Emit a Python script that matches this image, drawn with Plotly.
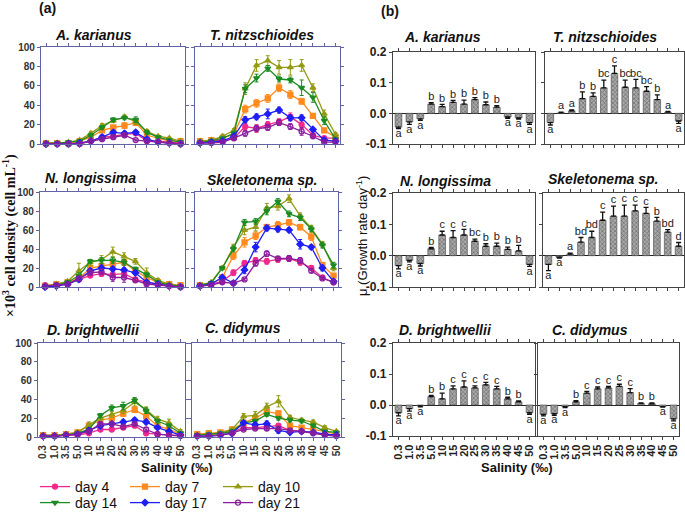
import plotly.graph_objects as go

# ---------------- data ----------------
salinity = ["0.3", "1.0", "3.5", "5.0", "10", "15", "20", "25", "30", "35", "40", "45", "50"]
days = ["day 4", "day 7", "day 10", "day 14", "day 17", "day 21"]
species = ["A. karianus", "T. nitzschioides", "N. longissima", "Skeletonema sp.", "D. brightwellii", "C. didymus"]

# cell density (x10^3 cells/mL), per species, per day
karianus_density = {
    "day 4":  [1, 1, 1, 1, 3, 7, 8, 10, 11, 3, 3, 2, 1],
    "day 7":  [1, 1, 1, 3, 7, 14, 17, 19, 22, 9, 6, 3, 3],
    "day 10": [1, 1, 2, 4, 11, 19, 24, 28, 23, 13, 8, 6, 3],
    "day 14": [1, 1, 2, 3, 9, 17, 25, 27, 25, 12, 7, 4, 2],
    "day 17": [0, 0, 0, 1, 3, 7, 12, 11, 12, 5, 2, 1, 0],
    "day 21": [0, 0, 0, 0, 3, 5, 7, 9, 4, 3, 2, 1, 0],
}
karianus_density_err = {
    "day 4":  [0.5, 0.5, 0.5, 0.5, 1, 1.5, 1.5, 2, 2, 1, 0.5, 0.5, 0.5],
    "day 7":  [0.5, 0.5, 0.5, 1, 1.5, 2, 2, 3, 3, 1.5, 1, 0.5, 0.5],
    "day 10": [0.5, 0.5, 0.5, 1, 2, 2, 2, 2, 3, 2, 1, 1, 1],
    "day 14": [0.5, 0.5, 0.5, 1, 2, 2, 2, 2, 3, 2, 1, 1, 0.5],
    "day 17": [0.3, 0.3, 0.3, 0.5, 1, 1.5, 2, 2, 2, 1, 0.5, 0.5, 0.3],
    "day 21": [0.3, 0.3, 0.3, 0.5, 1, 1, 1, 2, 1, 1, 0.5, 0.5, 0.3],
}
nitzschioides_density = {
    "day 4":  [3, 3, 4, 6, 18, 16, 20, 23, 28, 20, 9, 6, 6],
    "day 7":  [3, 4, 6, 10, 36, 42, 47, 58, 51, 44, 29, 14, 7],
    "day 10": [3, 4, 8, 14, 57, 81, 86, 79, 79, 81, 58, 31, 10],
    "day 14": [2, 3, 6, 11, 57, 68, 78, 67, 66, 58, 48, 24, 5],
    "day 17": [1, 2, 3, 8, 25, 28, 31, 35, 27, 27, 15, 4, 3],
    "day 21": [1, 1, 2, 6, 11, 16, 17, 22, 18, 13, 8, 2, 2],
}
nitzschioides_density_err = {
    "day 4":  [1, 1, 1, 1, 3, 4, 3, 3, 4, 4, 2, 1, 1],
    "day 7":  [1, 1, 1, 2, 4, 4, 4, 4, 4, 3, 2, 2, 1],
    "day 10": [1, 1, 2, 2, 6, 6, 5, 7, 8, 6, 4, 4, 2],
    "day 14": [1, 1, 1, 2, 4, 4, 3, 3, 3, 8, 5, 4, 2],
    "day 17": [1, 1, 1, 2, 3, 3, 5, 3, 3, 3, 2, 1, 1],
    "day 21": [1, 1, 1, 1, 3, 3, 3, 3, 3, 4, 2, 1, 1],
}
longissima_density = {
    "day 4":  [2, 2, 3, 8, 12, 14, 13, 14, 8, 5, 3, 2, 1],
    "day 7":  [1, 3, 5, 9, 20, 22, 24, 26, 17, 10, 5, 3, 2],
    "day 10": [1, 3, 6, 17, 26, 29, 37, 32, 27, 15, 7, 3, 1],
    "day 14": [1, 2, 5, 12, 27, 28, 28, 26, 19, 13, 5, 2, 1],
    "day 17": [0, 1, 3, 8, 17, 20, 19, 18, 15, 5, 3, 1, 0],
    "day 21": [1, 2, 3, 9, 15, 16, 10, 10, 7, 3, 2, 1, 0],
}
longissima_density_err = {
    "day 4":  [1, 1, 1, 1, 2, 3, 3, 3, 2, 1, 1, 1, 1],
    "day 7":  [1, 1, 1, 2, 3, 3, 3, 3, 3, 2, 1, 1, 1],
    "day 10": [1, 1, 1, 8, 3, 4, 5, 4, 3, 5, 2, 1, 1],
    "day 14": [1, 1, 1, 3, 2, 3, 3, 3, 2, 2, 1, 1, 1],
    "day 17": [1, 1, 1, 2, 2, 3, 2, 2, 2, 1, 1, 1, 1],
    "day 21": [1, 1, 1, 2, 3, 3, 4, 5, 2, 1, 1, 1, 1],
}
skeletonema_density = {
    "day 4":  [2, 3, 6, 15, 25, 28, 27, 29, 30, 26, 20, 10, 5],
    "day 7":  [2, 3, 10, 33, 47, 54, 63, 65, 68, 63, 53, 23, 12],
    "day 10": [2, 5, 20, 42, 60, 63, 83, 85, 93, 75, 62, 45, 20],
    "day 14": [2, 4, 20, 40, 68, 69, 80, 90, 77, 73, 61, 44, 23],
    "day 17": [1, 3, 10, 4, 18, 42, 62, 61, 60, 45, 42, 20, 6],
    "day 21": [1, 2, 5, 4, 8, 25, 35, 30, 30, 28, 17, 9, 5],
}
skeletonema_density_err = {
    "day 4":  [1, 1, 1, 3, 3, 3, 3, 3, 3, 3, 2, 2, 1],
    "day 7":  [1, 1, 1, 4, 5, 4, 3, 4, 3, 3, 4, 3, 2],
    "day 10": [1, 1, 2, 3, 5, 4, 5, 4, 4, 3, 3, 3, 3],
    "day 14": [1, 1, 1, 3, 3, 3, 4, 3, 3, 3, 3, 3, 3],
    "day 17": [1, 1, 1, 2, 4, 5, 3, 3, 2, 5, 2, 3, 1],
    "day 21": [1, 1, 1, 1, 1, 3, 3, 2, 3, 3, 2, 1, 1],
}
brightwellii_density = {
    "day 4":  [1, 1, 2, 2, 4, 8, 8, 10, 12, 4, 3, 2, 2],
    "day 7":  [2, 2, 3, 5, 12, 18, 20, 25, 29, 22, 12, 8, 3],
    "day 10": [2, 2, 3, 5, 13, 20, 24, 28, 37, 29, 19, 15, 6],
    "day 14": [1, 1, 2, 4, 8, 23, 31, 33, 39, 28, 17, 12, 4],
    "day 17": [1, 1, 2, 3, 7, 12, 14, 16, 18, 16, 10, 6, 2],
    "day 21": [1, 1, 2, 3, 6, 14, 14, 11, 14, 8, 3, 2, 1],
}
brightwellii_density_err = {
    "day 4":  [1, 1, 1, 1, 1, 1, 1, 1, 2, 1, 1, 1, 1],
    "day 7":  [1, 1, 1, 1, 2, 3, 3, 3, 3, 3, 2, 1, 1],
    "day 10": [1, 1, 1, 2, 3, 3, 3, 3, 4, 3, 3, 4, 2],
    "day 14": [0.5, 0.5, 1, 1, 2, 2, 3, 4, 3, 3, 2, 2, 1],
    "day 17": [0.5, 0.5, 0.5, 1, 2, 2, 2, 2, 2, 2, 1, 1, 1],
    "day 21": [0.5, 0.5, 0.5, 1, 1, 1, 2, 2, 2, 2, 1, 1, 0.5],
}
didymus_density = {
    "day 4":  [3, 3, 4, 5, 10, 10, 11, 12, 7, 6, 5, 3, 2],
    "day 7":  [3, 4, 5, 8, 15, 20, 27, 25, 12, 10, 8, 6, 3],
    "day 10": [2, 3, 4, 8, 22, 23, 32, 38, 21, 18, 16, 10, 6],
    "day 14": [2, 3, 4, 6, 15, 17, 24, 20, 18, 17, 12, 6, 5],
    "day 17": [1, 1, 2, 4, 15, 13, 14, 7, 5, 6, 5, 3, 2],
    "day 21": [1, 1, 2, 4, 8, 9, 9, 9, 7, 6, 4, 2, 1],
}
didymus_density_err = {
    "day 4":  [1, 1, 1, 1, 1, 1, 1, 1, 1, 1, 1, 1, 1],
    "day 7":  [1, 1, 1, 1, 2, 3, 3, 3, 2, 2, 1, 1, 1],
    "day 10": [1, 1, 1, 1, 3, 4, 4, 6, 2, 2, 2, 2, 1],
    "day 14": [0.5, 0.5, 1, 1, 2, 2, 2, 2, 2, 2, 2, 1, 1],
    "day 17": [0.5, 0.5, 0.5, 1, 2, 2, 3, 3, 1, 1, 1, 1, 0.5],
    "day 21": [0.5, 0.5, 0.5, 1, 1, 1, 2, 2, 1, 1, 1, 1, 0.5],
}

# growth rate (day^-1), error, significance letters
karianus_mu = [-0.045, -0.028, -0.018, 0.030, 0.022, 0.036, 0.030, 0.045, 0.028, 0.020, -0.012, -0.015, -0.030]
karianus_mu_err = [0.005, 0.008, 0.005, 0.005, 0.007, 0.006, 0.013, 0.006, 0.009, 0.005, 0.004, 0.004, 0.006]
karianus_letters = ["a", "a", "a", "b", "b", "b", "b", "b", "b", "b", "a", "a", "a"]

nitzschioides_mu = [-0.030, 0.002, 0.008, 0.048, 0.055, 0.083, 0.130, 0.085, 0.083, 0.072, 0.045, 0.004, -0.025]
nitzschioides_mu_err = [0.008, 0.002, 0.003, 0.022, 0.012, 0.025, 0.025, 0.023, 0.028, 0.015, 0.015, 0.002, 0.008]
nitzschioides_letters = ["a", "a", "a", "b", "b", "bc", "c", "bc", "bc", "bc", "b", "a", "a"]

longissima_mu = [-0.032, -0.015, -0.025, 0.022, 0.066, 0.058, 0.066, 0.046, 0.030, 0.030, 0.020, 0.015, -0.028]
longissima_mu_err = [0.010, 0.005, 0.008, 0.004, 0.012, 0.022, 0.018, 0.007, 0.008, 0.010, 0.007, 0.018, 0.006]
longissima_letters = ["a", "a", "a", "b", "c", "c", "c", "bc", "b", "b", "b", "b", "a"]

skeletonema_mu = [-0.028, -0.005, 0.005, 0.043, 0.058, 0.113, 0.126, 0.126, 0.143, 0.135, 0.110, 0.075, 0.030]
skeletonema_mu_err = [0.020, 0.003, 0.003, 0.015, 0.020, 0.026, 0.032, 0.035, 0.018, 0.019, 0.012, 0.008, 0.012]
skeletonema_letters = ["a", "a", "a", "bd", "bd", "c", "c", "c", "c", "c", "b", "bd", "d"]

brightwellii_mu = [-0.025, -0.012, -0.003, 0.027, 0.020, 0.052, 0.058, 0.055, 0.065, 0.052, 0.020, 0.010, -0.025]
brightwellii_mu_err = [0.010, 0.008, 0.003, 0.004, 0.018, 0.010, 0.020, 0.007, 0.008, 0.008, 0.005, 0.003, 0.005]
brightwellii_letters = ["a", "a", "a", "b", "b", "c", "c", "c", "c", "c", "b", "b", "a"]

didymus_mu = [-0.030, -0.028, -0.005, 0.010, 0.038, 0.052, 0.055, 0.060, 0.040, 0.005, 0.004, -0.005, -0.045]
didymus_mu_err = [0.005, 0.005, 0.003, 0.004, 0.006, 0.006, 0.005, 0.007, 0.013, 0.002, 0.003, 0.002, 0.006]
didymus_letters = ["a", "a", "a", "b", "c", "c", "c", "c", "c", "b", "b", "a", "a"]

density_sets = [
    (karianus_density, karianus_density_err),
    (nitzschioides_density, nitzschioides_density_err),
    (longissima_density, longissima_density_err),
    (skeletonema_density, skeletonema_density_err),
    (brightwellii_density, brightwellii_density_err),
    (didymus_density, didymus_density_err),
]
growth_sets = [
    (karianus_mu, karianus_mu_err, karianus_letters),
    (nitzschioides_mu, nitzschioides_mu_err, nitzschioides_letters),
    (longissima_mu, longissima_mu_err, longissima_letters),
    (skeletonema_mu, skeletonema_mu_err, skeletonema_letters),
    (brightwellii_mu, brightwellii_mu_err, brightwellii_letters),
    (didymus_mu, didymus_mu_err, didymus_letters),
]

# ---------------- styles ----------------
W, H = 685, 512
day_colors = {"day 4": "#f0288c", "day 7": "#ff8a1e", "day 10": "#959a12",
              "day 14": "#1c8c22", "day 17": "#1e1ef5", "day 21": "#8a1e9e"}
day_symbols = {"day 4": "circle", "day 7": "square", "day 10": "triangle-up",
               "day 14": "triangle-down", "day 17": "diamond", "day 21": "circle-open"}
FONT = "Liberation Sans, Arial, sans-serif"
FRAME_A = "#6262a6"
FRAME_B = "#444444"

def px_x(a, b):
    return [a / W, b / W]

def px_y(top, bottom):
    return [1 - bottom / H, 1 - top / H]

# plot-area boxes in pixels (left, right, top, bottom)
line_boxes = [(41, 185, 47, 144), (195, 340, 47, 144),
              (40, 185, 192, 287), (195, 338, 192, 287),
              (38, 185, 343, 437), (192, 341, 343, 437)]
bar_boxes = [(393, 535, 52, 144), (545, 684, 52, 144),
             (393, 535, 193, 287), (543, 684, 193, 287),
             (393, 535, 343, 436), (538, 679, 343, 436)]
line_title_pos = [(93, 35), (262, 35), (90, 178), (262, 180), (93, 330), (243, 328)]
bar_title_pos = [(442, 37), (605, 37), (445, 181), (603, 179), (445, 330), (590, 330)]
# legend entry anchors (left x, center y) in pixels
legend_pos = {"day 4": (35, 487), "day 7": (125, 487), "day 10": (218, 487),
              "day 14": (35, 503), "day 17": (125, 503), "day 21": (218, 503)}
legend_ids = {"day 4": "legend", "day 7": "legend2", "day 10": "legend3",
              "day 14": "legend4", "day 17": "legend5", "day 21": "legend6"}

fig = go.Figure()
layout = {}
annotations = []
axis_n = 0

def axname(n):
    return "" if n == 1 else str(n)

def ann(text, x, y, size, family=FONT, angle=0):
    return dict(text=text, x=x / W, y=1 - y / H, xref="paper", yref="paper",
                xanchor="center", yanchor="middle", showarrow=False, textangle=angle,
                font=dict(family=family, size=size, color="#111"))

# ---------- density line panels ----------
for i, (dens, derr) in enumerate(density_sets):
    axis_n += 1
    n = axis_n
    l, r, t, b = line_boxes[i]
    bottom_row = i >= 4
    left_col = i % 2 == 0
    for d in days:
        fig.add_trace(go.Scatter(
            x=salinity, y=dens[d], name=d,
            mode="lines+markers",
            line=dict(color=day_colors[d], width=1.3),
            marker=dict(symbol=day_symbols[d], size=5, color=day_colors[d],
                        line=dict(color=day_colors[d], width=1.3)),
            error_y=dict(type="data", array=derr[d], color=day_colors[d], thickness=1, width=2),
            xaxis="x" + axname(n), yaxis="y" + axname(n),
            showlegend=(i == 0), legend=legend_ids[d],
            cliponaxis=False,
        ))
    layout["xaxis" + axname(n)] = dict(
        domain=px_x(l, r), anchor="y" + axname(n), type="category",
        categoryorder="array", categoryarray=salinity, range=[-0.45, 12.4],
        tickmode="array", tickvals=salinity, ticktext=salinity,
        showline=True, linecolor=FRAME_A, linewidth=1.3, mirror="allticks",
        ticks="outside", ticklen=3, tickcolor=FRAME_A,
        showticklabels=bottom_row, tickangle=-90,
        tickfont=dict(family=FONT, size=10, color="#333", weight="bold"),
        showgrid=False, zeroline=False,
    )
    layout["yaxis" + axname(n)] = dict(
        domain=px_y(t, b), anchor="x" + axname(n), range=[0, 100],
        tickvals=[0, 20, 40, 60, 80, 100],
        showline=True, linecolor=FRAME_A, linewidth=1.3, mirror="allticks",
        ticks="outside", ticklen=3, tickcolor=FRAME_A,
        showticklabels=left_col,
        tickfont=dict(family=FONT, size=10, color="#333", weight="bold"),
        showgrid=False, zeroline=False,
    )
    tx, ty = line_title_pos[i]
    annotations.append(ann("<b><i>" + species[i] + "</i></b>", tx, ty, 14))

# ---------- growth-rate bar panels ----------
for i, (mu, mu_err, letters) in enumerate(growth_sets):
    axis_n += 1
    n = axis_n
    l, r, t, b = bar_boxes[i]
    bottom_row = i >= 4
    left_col = i % 2 == 0
    up = [e if v >= 0 else 0 for v, e in zip(mu, mu_err)]
    down = [e if v < 0 else 0 for v, e in zip(mu, mu_err)]
    fig.add_trace(go.Bar(
        x=salinity, y=mu, width=0.62,
        marker=dict(color="#7a7a7a", line=dict(color="#444", width=0.6),
                    pattern=dict(shape="x", size=3, solidity=0.4, fgcolor="#2e2e2e", bgcolor="#a9a9a9")),
        error_y=dict(type="data", array=up, arrayminus=down, symmetric=False,
                     color="#111", thickness=1.3, width=2.5),
        xaxis="x" + axname(n), yaxis="y" + axname(n), showlegend=False,
    ))
    label_y = [v + e if v >= 0 else v - e for v, e in zip(mu, mu_err)]
    positions = ["top center" if v >= 0 else "bottom center" for v in mu]
    fig.add_trace(go.Scatter(
        x=salinity, y=label_y, mode="text", text=letters, textposition=positions,
        textfont=dict(family=FONT, size=11, color="#222"),
        xaxis="x" + axname(n), yaxis="y" + axname(n), showlegend=False, cliponaxis=False,
    ))
    layout["xaxis" + axname(n)] = dict(
        domain=px_x(l, r), anchor="y" + axname(n), type="category",
        categoryorder="array", categoryarray=salinity, range=[-0.5, 12.5],
        tickmode="array", tickvals=salinity, ticktext=salinity,
        showline=True, linecolor=FRAME_B, linewidth=1.3, mirror="allticks",
        ticks="outside", ticklen=3, tickcolor=FRAME_B,
        showticklabels=bottom_row, tickangle=-90,
        tickfont=dict(family=FONT, size=11, color="#222", weight="bold"),
        showgrid=False, zeroline=False,
    )
    layout["yaxis" + axname(n)] = dict(
        domain=px_y(t, b), anchor="x" + axname(n), range=[-0.1, 0.2],
        tickvals=[-0.1, 0.0, 0.1, 0.2], ticktext=["-0.1", "0.0", "0.1", "0.2"],
        showline=True, linecolor=FRAME_B, linewidth=1.3, mirror=True,
        ticks="outside", ticklen=3, tickcolor=FRAME_B,
        showticklabels=left_col,
        tickfont=dict(family=FONT, size=12, color="#222", weight="bold"),
        showgrid=False, zeroline=True, zerolinecolor="#222", zerolinewidth=1.3,
    )
    tx, ty = bar_title_pos[i]
    annotations.append(ann("<b><i>" + species[i] + "</i></b>", tx, ty, 14))

# ---------- labels ----------
annotations += [
    ann("<b>(a)</b>", 47, 8, 14),
    ann("<b>(b)</b>", 390, 11, 14),
    ann("<b>×10<sup>3</sup> cell density (cell mL<sup>-1</sup>)</b>", 9, 236, 14,
        family="Liberation Serif, Times New Roman, serif", angle=-90),
    ann("μ (Growth rate day<sup>-1</sup>)", 362, 236, 13, angle=-90),
    ann("<b>Salinity (‰)</b>", 177, 467, 13),
    ann("<b>Salinity (‰)</b>", 517, 467, 13),
]

for d in days:
    lx, ly = legend_pos[d]
    layout[legend_ids[d]] = dict(
        x=lx / W, y=1 - ly / H, orientation="h", xanchor="left", yanchor="middle",
        font=dict(family=FONT, size=14, color="#111"), bgcolor="rgba(0,0,0,0)",
        itemwidth=30,
    )

fig.update_layout(
    width=W, height=H, margin=dict(l=0, r=0, t=0, b=0, autoexpand=False),
    paper_bgcolor="white", plot_bgcolor="white",
    font=dict(family=FONT), bargap=0.3,
    annotations=annotations, **layout,
)

fig.write_html("out.html", config={"displayModeBar": False},
               post_script="document.body.style.margin='0';document.body.style.padding='0';")
